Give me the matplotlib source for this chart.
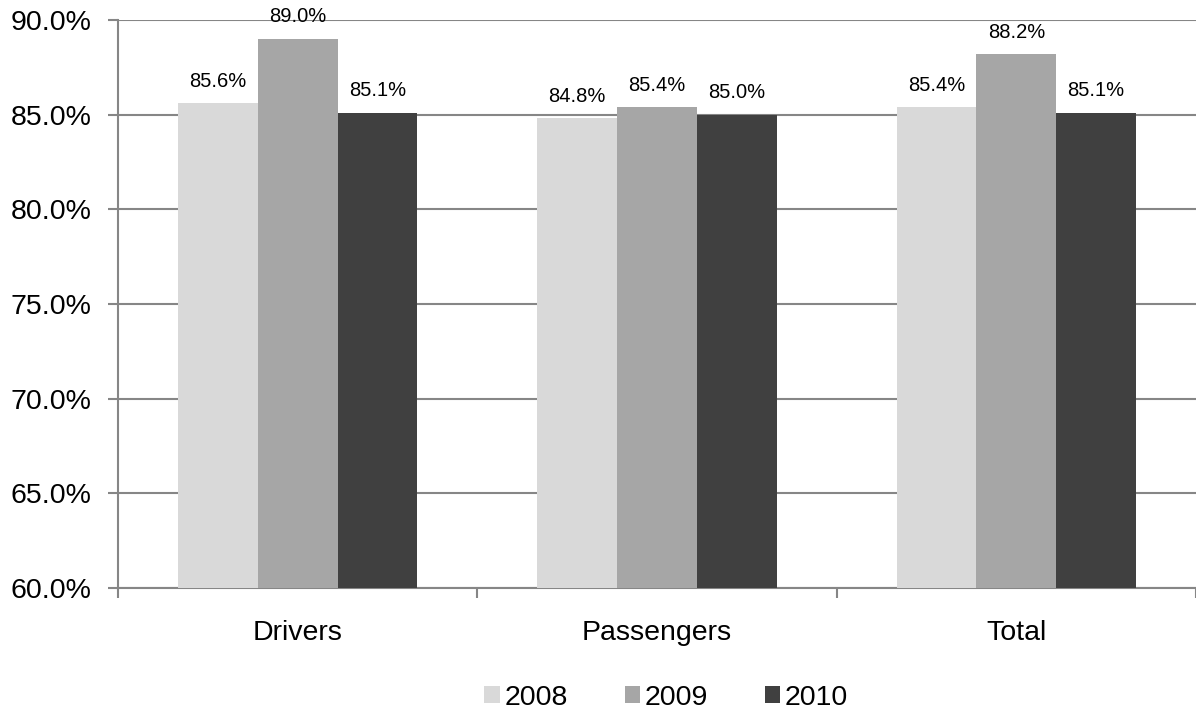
import numpy as np
import matplotlib.pyplot as plt
from matplotlib.ticker import FuncFormatter

plt.rcParams['font.family'] = ['Liberation Sans', 'DejaVu Sans']

categories = ['Drivers', 'Passengers', 'Total']
years = ['2008', '2009', '2010']
values_2008 = [85.6, 84.8, 85.4]
values_2009 = [89.0, 85.4, 88.2]
values_2010 = [85.1, 85.0, 85.1]
colors = ['#d9d9d9', '#a6a6a6', '#404040']

fig = plt.figure(figsize=(11.96, 7.17), dpi=100)
ax = fig.add_axes([118 / 1196, 129 / 717, 1078 / 1196, 568 / 717])

x = np.arange(len(categories))
w = 0.222
for i, (vals, yr) in enumerate(zip([values_2008, values_2009, values_2010], years)):
    bars = ax.bar(x + (i - 1) * w, vals, width=w, color=colors[i], label=yr, zorder=3)
    for b, v in zip(bars, vals):
        ax.annotate(f'{v:.1f}%', (b.get_x() + b.get_width() / 2, v),
                    xytext=(0, 9), textcoords='offset points',
                    ha='center', va='bottom', fontsize=14.5, clip_on=False, zorder=4)

ax.set_ylim(60, 90)
ax.set_xlim(-0.5, 2.5)
ax.set_yticks(np.arange(60, 90.1, 5))
ax.yaxis.set_major_formatter(FuncFormatter(lambda v, p: f'{v:.1f}%'))
ax.grid(axis='y', color='#868686', linewidth=1.5, zorder=0)

ax.set_xticks([-0.5, 0.5, 1.5, 2.5])
ax.set_xticklabels([])
ax.set_xticks(x, minor=True)
ax.set_xticklabels(categories, minor=True, fontsize=20.5)
ax.tick_params(axis='x', which='minor', length=0, pad=23)
ax.tick_params(axis='x', which='major', length=7, width=1.5, color='#868686')
ax.tick_params(axis='y', length=7, width=1.5, color='#868686', labelsize=20.5, pad=12)

for s in ['top', 'right']:
    ax.spines[s].set_visible(False)
for s in ['left', 'bottom']:
    ax.spines[s].set_color('#868686')
    ax.spines[s].set_linewidth(1.5)

fig.legend(loc='center', bbox_to_anchor=(0.557, 0.027), ncol=3, frameon=False,
           fontsize=20.5, handlelength=0.55, handleheight=0.55, handletextpad=0.15,
           columnspacing=2.0)

fig.savefig('out.png', dpi=100)
